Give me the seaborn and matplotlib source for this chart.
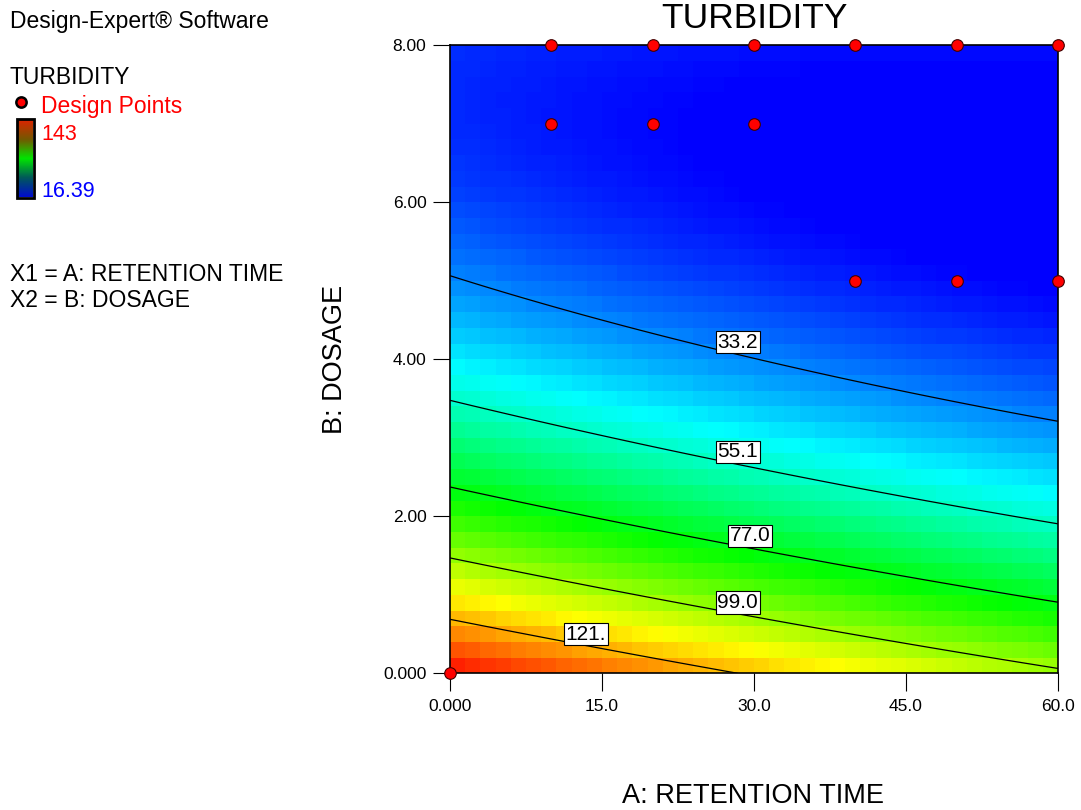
import numpy as np
import matplotlib
matplotlib.use("Agg")
import matplotlib.pyplot as plt
from matplotlib.colors import LinearSegmentedColormap
from matplotlib.patches import Rectangle
import seaborn as sns

# fitted quadratic model for turbidity: b0, A, B, AB, A^2, B^2
coef = [142.616, -0.818287, -32.9763, 0.0788239, 0.0020061, 2.2456]
a_range = [0.0, 60.0]
b_range = [0.0, 8.0]
n_cells = 40
levels = [33.2, 55.1, 77.0, 99.0, 121.0]
resp_min, resp_max = 16.39, 143.0

# design points (retention time, dosage)
pt_a = [0, 10, 20, 30, 40, 50, 60, 10, 20, 30, 40, 50, 60]
pt_b = [0, 8, 8, 8, 8, 8, 8, 7, 7, 7, 5, 5, 5]

xticks = [0, 15, 30, 45, 60]
xtick_labels = ["0.000", "15.0", "30.0", "45.0", "60.0"]
yticks = [0, 2, 4, 6, 8]
ytick_labels = ["0.000", "2.00", "4.00", "6.00", "8.00"]

# where the contour labels sit (A, B)
label_pos = [(28.4, 4.22), (28.4, 2.82), (29.6, 1.75), (28.4, 0.90), (13.4, 0.50)]


def turbidity(a, b):
    b0, b1, b2, b12, b11, b22 = coef
    return b0 + b1 * a + b2 * b + b12 * a * b + b11 * a ** 2 + b22 * b ** 2


sns.set_theme(style="white")
plt.rcParams["font.family"] = ["Liberation Sans", "DejaVu Sans"]
plt.rcParams["text.color"] = "black"
plt.rcParams["xtick.color"] = "black"
plt.rcParams["ytick.color"] = "black"
plt.rcParams["axes.labelcolor"] = "black"

de_cmap = LinearSegmentedColormap.from_list(
    "de", [(0, 0, 1), (0, 1, 1), (0, 1, 0), (1, 1, 0), (1, 0, 0)])
leg_cmap = LinearSegmentedColormap.from_list(
    "leg", [(0, 0.05, 0.8), (0, 0.35, 0.35), (0, 0.9, 0), (0.45, 0.35, 0), (0.85, 0.15, 0)])

W, H = 1081, 810
fig = plt.figure(figsize=(W / 100, H / 100), dpi=100)

# overlay axes in pixel coordinates for the side legend and labels
ov = fig.add_axes([0, 0, 1, 1], zorder=0)
ov.set_xlim(0, W)
ov.set_ylim(H, 0)
ov.axis("off")

ax = fig.add_axes([450 / W, (H - 673.3) / H, 608 / W, 628 / H], zorder=1)

edges_a = np.linspace(a_range[0], a_range[1], n_cells + 1)
edges_b = np.linspace(b_range[0], b_range[1], n_cells + 1)
ca = (edges_a[:-1] + edges_a[1:]) / 2
cb = (edges_b[:-1] + edges_b[1:]) / 2
CA, CB = np.meshgrid(ca, cb)
ax.pcolormesh(edges_a, edges_b, turbidity(CA, CB), cmap=de_cmap,
              vmin=resp_min, vmax=resp_max, shading="flat", zorder=1)

fa = np.linspace(a_range[0], a_range[1], 241)
fb = np.linspace(b_range[0], b_range[1], 241)
FA, FB = np.meshgrid(fa, fb)
ax.contour(FA, FB, turbidity(FA, FB), levels=levels, colors="black",
           linewidths=0.9, zorder=2)
for lev, (la, lb) in zip(levels, label_pos):
    ax.text(la, lb, f"{lev:#.3g}", fontsize=15, ha="center", va="center", zorder=3,
            bbox=dict(boxstyle="square,pad=0.08", fc="white", ec="black", lw=0.8))

sns.scatterplot(x=pt_a, y=pt_b, ax=ax, color="red", edgecolor="#400000",
                linewidth=0.8, s=70, clip_on=False, zorder=6, legend=False)

ax.set_xlim(a_range)
ax.set_ylim(b_range)
ax.set_xticks(xticks)
ax.set_xticklabels(xtick_labels)
ax.set_yticks(yticks)
ax.set_yticklabels(ytick_labels)
ax.tick_params(axis="x", length=13, width=0.8, color="black", pad=5.5,
               labelsize=12.5, bottom=True, direction="out")
ax.tick_params(axis="y", length=12.5, width=0.8, color="black", pad=4.5,
               labelsize=12.5, left=True, direction="out")
for sp in ax.spines.values():
    sp.set_color("black")
    sp.set_linewidth(1.2)
    sp.set_zorder(4)
ax.set_xlabel("")
ax.set_ylabel("")

# axis titles
ov.text(754, 28, "TURBIDITY", fontsize=25.5, ha="center", va="baseline")
ov.text(753, 803, "A: RETENTION TIME", fontsize=19.5, ha="center", va="baseline")
ov.text(335.5, 359, "B: DOSAGE", fontsize=19.5, ha="center", va="center", rotation=90)

# side legend
side_fs = 16.5
ov.text(10, 28.3, "Design-Expert® Software", fontsize=side_fs, va="baseline")
ov.text(10, 84, "TURBIDITY", fontsize=side_fs, va="baseline")
ov.scatter([21], [101.5], s=55, color="red", edgecolor="black", linewidth=1.8)
ov.text(41, 112.7, "Design Points", fontsize=side_fs, color="red", va="baseline")
grad = np.linspace(1, 0, 100).reshape(-1, 1)
ov.imshow(grad, cmap=leg_cmap, extent=(18, 33, 197, 120), aspect="auto", zorder=2)
ov.add_patch(Rectangle((17, 119), 17, 79, fill=False, ec="black", lw=2, zorder=3))
ov.text(41, 140, f"{resp_max:g}", fontsize=15.5, color="red", va="baseline")
ov.text(41, 196.7, f"{resp_min:g}", fontsize=15.5, color="blue", va="baseline")
ov.text(10, 280.7, "X1 = A: RETENTION TIME", fontsize=side_fs, va="baseline")
ov.text(10, 307.3, "X2 = B: DOSAGE", fontsize=side_fs, va="baseline")
ov.set_xlim(0, W)
ov.set_ylim(H, 0)

fig.savefig("out.png", dpi=100)
